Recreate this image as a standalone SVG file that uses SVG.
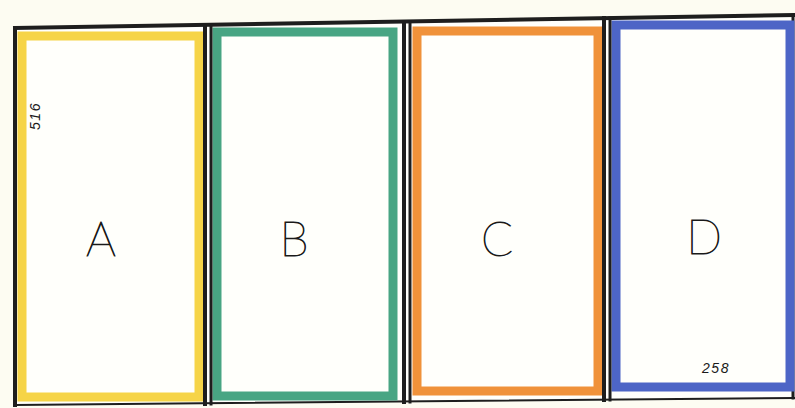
<svg xmlns="http://www.w3.org/2000/svg" width="795" height="408" viewBox="0 0 795 408">
<style>
.frame{stroke:#1e1e1e;fill:none;stroke-linecap:square}
.panel{fill:#fffffb;stroke-width:9;stroke-linejoin:miter}
.big{font-family:Lato,"Open Sans","DejaVu Sans",sans-serif;font-weight:200;font-size:47px;fill:#1a1a1a;stroke:#1a1a1a;stroke-width:0.9;text-anchor:middle}
.dim{font-family:"Liberation Sans",Arial,sans-serif;font-style:italic;font-size:14px;fill:#1a1a1a;text-anchor:middle;letter-spacing:1.5px}
</style>
<rect x="0" y="0" width="795" height="408" fill="#fdfcf2"/>
<g id="frame">
  <polygon points="15,28 795,15 795,398 15,405" fill="#fffffb"/>
  <path class="frame" stroke-width="4" d="M15,28 L795,15"/>
  <path class="frame" stroke-width="4" d="M15,28 L15,405"/>
  <path class="frame" stroke-width="3" d="M793,15 L793,398"/>
  <path class="frame" stroke-width="2" d="M15,405 L795,398"/>
</g>
<g id="A">
  <rect class="panel" x="22" y="36" width="177" height="361" stroke="#f6d447"/>
  <text class="big" x="101" y="256">A</text>
  <text class="dim" transform="translate(40,116) rotate(-90)">516</text>
</g>
<g id="B">
  <rect class="panel" x="217" y="32" width="176" height="364" stroke="#48a583"/>
  <text class="big" x="294" y="256">B</text>
</g>
<g id="C">
  <rect class="panel" x="417" y="31" width="181" height="360" stroke="#f0923a"/>
  <text class="big" x="497" y="256">C</text>
</g>
<g id="D">
  <rect class="panel" x="616" y="25" width="174" height="362" stroke="#4d65c6"/>
  <text class="big" x="704" y="254">D</text>
  <text class="dim" x="716" y="373">258</text>
</g>
<g id="connectors">
  <path class="frame" stroke-width="4" d="M205,25 L205,404"/>
  <path class="frame" stroke-width="3" d="M211,25 L211,404"/>
  <path class="frame" stroke-width="4" d="M404,22 L404,402"/>
  <path class="frame" stroke-width="3" d="M410,22 L410,402"/>
  <path class="frame" stroke-width="4" d="M604,18 L604,400"/>
  <path class="frame" stroke-width="3" d="M610,18 L610,400"/>
</g>
</svg>
